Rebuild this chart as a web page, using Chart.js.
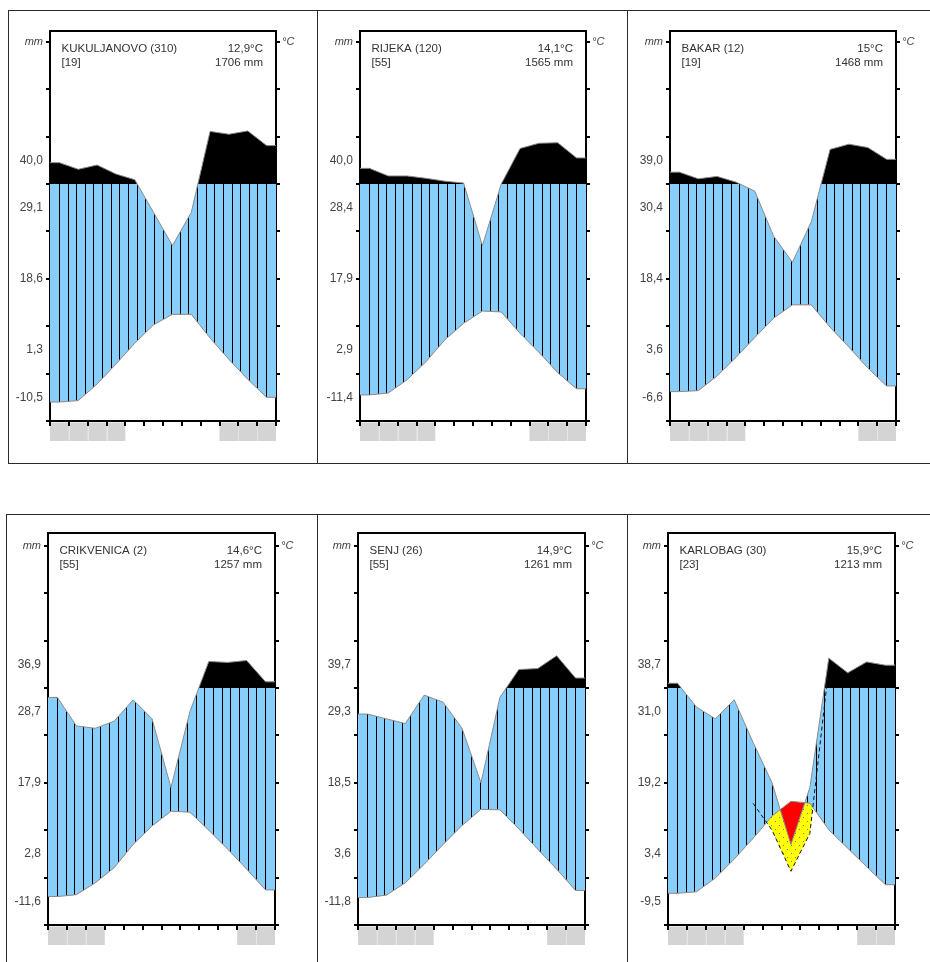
<!DOCTYPE html>
<html><head><meta charset="utf-8">
<script src="https://cdn.jsdelivr.net/npm/chart.js@4.4.1/dist/chart.umd.min.js"></script>
<style>
html,body{margin:0;padding:0;background:#fff;overflow:hidden;width:930px;height:962px;position:relative;}
.ln{position:absolute;background:#2b2b2b;}
canvas{position:absolute;}
</style></head><body>
<div class="ln" style="left:8px;top:10px;width:922px;height:1px"></div>
<div class="ln" style="left:8px;top:463px;width:922px;height:1px"></div>
<div class="ln" style="left:8px;top:10px;width:1px;height:454px"></div>
<div class="ln" style="left:317px;top:10px;width:1px;height:454px"></div>
<div class="ln" style="left:627px;top:10px;width:1px;height:454px"></div>
<div class="ln" style="left:6px;top:514px;width:924px;height:1px"></div>
<div class="ln" style="left:6px;top:514px;width:1px;height:448px"></div>
<div class="ln" style="left:317px;top:514px;width:1px;height:448px"></div>
<div class="ln" style="left:627px;top:514px;width:1px;height:448px"></div>
<script>
// ---------------- DATA ----------------
const months = ['Jan','Feb','Mar','Apr','May','Jun','Jul','Aug','Sep','Oct','Nov','Dec'];
const stationNames = ['KUKULJANOVO (310)','RIJEKA (120)','BAKAR (12)','CRIKVENICA (2)','SENJ (26)','KARLOBAG (30)'];
const recordYears = ['[19]','[55]','[19]','[55]','[55]','[23]'];
const meanTemps = ['12,9°C','14,1°C','15°C','14,6°C','14,9°C','15,9°C'];
const annualPrecip = ['1706 mm','1565 mm','1468 mm','1257 mm','1261 mm','1213 mm'];
const leftLabels = [
  ['40,0','29,1','18,6','1,3','-10,5'],
  ['40,0','28,4','17,9','2,9','-11,4'],
  ['39,0','30,4','18,4','3,6','-6,6'],
  ['36,9','28,7','17,9','2,8','-11,6'],
  ['39,7','29,3','18,5','3,6','-11,8'],
  ['38,7','31,0','19,2','3,4','-9,5']
];
// monthly mean temperature (°C)
const tempKukuljanovo = [4.0, 4.3, 7.8, 12.0, 16.4, 20.3, 22.5, 22.5, 17.5, 13.0, 8.8, 5.0];
const tempRijeka      = [5.5, 5.9, 8.7, 12.5, 17.1, 20.6, 23.2, 23.0, 18.5, 14.5, 10.2, 6.8];
const tempBakar       = [6.2, 6.4, 9.5, 13.4, 17.6, 21.7, 24.5, 24.5, 19.8, 15.6, 11.2, 7.4];
const tempCrikvenica  = [6.0, 6.4, 8.9, 12.1, 17.0, 20.9, 24.0, 23.8, 20.0, 16.0, 11.8, 7.4];
const tempSenj        = [5.8, 6.3, 8.9, 12.8, 17.0, 21.0, 24.4, 24.3, 20.3, 16.0, 11.8, 7.3];
const tempKarlobag    = [6.7, 7.0, 9.9, 13.9, 18.3, 23.0, 26.1, 25.7, 20.1, 16.2, 12.3, 8.5];
// monthly precipitation (mm)
const precKukuljanovo = [145, 131, 140, 121, 109, 88, 74, 88, 211, 205, 212, 181];
const precRijeka      = [133, 117, 117, 112, 106, 102, 74, 100, 175, 186, 187, 155];
const precBakar       = [125, 111, 116, 104, 97, 78, 67, 84, 173, 184, 177, 152];
const precCrikvenica  = [96, 84, 83, 86, 95, 87, 58, 90, 156, 154, 158, 113];
const precSenj        = [89, 87, 85, 97, 94, 83, 60, 96, 139, 141, 168, 121];
const precKarlobag    = [110, 92, 87, 95, 77, 60, 34, 58, 163, 132, 155, 148];
// months (0-based) with frost
const frostKukuljanovo = [0,1,2,3,9,10,11];
const frostRijeka      = [0,1,2,3,9,10,11];
const frostBakar       = [0,1,2,3,10,11];
const frostCrikvenica  = [0,1,2,10,11];
const frostSenj        = [0,1,2,3,10,11];
const frostKarlobag    = [0,1,2,3,10,11];

const temps = [tempKukuljanovo,tempRijeka,tempBakar,tempCrikvenica,tempSenj,tempKarlobag];
const precs = [precKukuljanovo,precRijeka,precBakar,precCrikvenica,precSenj,precKarlobag];
const frosts = [frostKukuljanovo,frostRijeka,frostBakar,frostCrikvenica,frostSenj,frostKarlobag];

// ---------------- LAYOUT / STYLE ----------------
const boxes = [
  {L:50,T:31,W:226,H:390},{L:360,T:31,W:226,H:390},{L:670,T:31,W:226,H:390},
  {L:48,T:533,W:227,H:392},{L:358,T:533,W:227,H:392},{L:668,T:533,W:227,H:392}
];
const AX_L=50, AX_R=34, AX_T=30, AX_B=30;
const LABEL_POS = [55,45,30,15,5];
const GRID_TICKS = [0,10,20,30,40,50,60,70,80];
const FONT = '"Liberation Sans", Arial, Helvetica, sans-serif';
const BLUE = '#87cefa';

// Walter-Lieth scale: 10°C = 20 mm; above 100 mm compressed
function scaleP(p){ return p <= 100 ? p/2 : 50 + (p-100)/10; }
function withEdges(vals){
  const pts = vals.map((v,i)=>({x:i+0.5,y:v}));
  return [{x:0,y:vals[0]}, ...pts, {x:12,y:vals[vals.length-1]}];
}
function dryThird(T,P){
  const arid = P.some((p,i)=>p/2 < T[i]);
  if(!arid) return [];
  const rel = [];
  P.forEach((p,i)=>{ if(p/3 < T[i]) rel.push(i); });
  const a = Math.max(0, rel[0]-1), b = Math.min(11, rel[rel.length-1]+1);
  const pts = [];
  for(let i=a;i<=b;i++) pts.push({x:i+0.5, y:P[i]/3});
  return pts;
}

function makeChart(i){
  const b = boxes[i];
  const cv = document.createElement('canvas');
  const w = AX_L + b.W + AX_R, h = AX_T + b.H + AX_B;
  cv.width = w; cv.height = h;
  cv.style.left = (b.L - AX_L) + 'px';
  cv.style.top = (b.T - AX_T) + 'px';
  cv.style.width = w + 'px'; cv.style.height = h + 'px';
  document.body.appendChild(cv);
  const yMax = b.H / 4.74;
  const T = temps[i], P = precs[i];
  const pScaled = P.map(scaleP);

  const decor = {
    id: 'decor'+i,
    beforeDraw(chart){
      const ctx = chart.ctx, xs = chart.scales.x, ca = chart.chartArea;
      ctx.save();
      frosts[i].forEach(m=>{
        const x0 = xs.getPixelForValue(m), x1 = xs.getPixelForValue(m+1);
        ctx.fillStyle = '#d4d4d4';
        ctx.fillRect(x0, ca.bottom+1.5, x1-x0, 18.5);
        ctx.fillStyle = '#e6e6e6';
        if (m>0 && frosts[i].includes(m-1)) ctx.fillRect(Math.round(x0), ca.bottom+1.5, 1, 18.5);
      });
      ctx.restore();
    },
    afterDraw(chart){
      const ctx = chart.ctx, ca = chart.chartArea;
      ctx.save();
      ctx.font = '11.5px ' + FONT;
      ctx.fillStyle = '#333';
      ctx.textBaseline = 'middle';
      ctx.textAlign = 'left';
      ctx.fillText(stationNames[i], ca.left+11.5, ca.top+18);
      ctx.fillText(recordYears[i], ca.left+11.5, ca.top+31.5);
      ctx.textAlign = 'right';
      ctx.fillText(meanTemps[i], ca.right-13, ca.top+18);
      ctx.fillText(annualPrecip[i], ca.right-13, ca.top+31.5);
      ctx.restore();
    }
  };

  const chart = new Chart(cv, {
    type: 'line',
    data: {
      datasets: [
        { label:'excess', data: withEdges(pScaled), borderWidth:0, borderColor:'rgba(0,0,0,0)', pointRadius:0,
          fill:{target:{value:50}, above:'#000', below:'rgba(0,0,0,0)'} },
        { label:'precip', data: withEdges(pScaled), borderWidth:1, borderColor:'#8c8c8c', pointRadius:0,
          fill:{target:3, above:BLUE, below:'#ff0000'} },
        { label:'precip13', data: dryThird(T,P), borderWidth:1, borderColor:'#111', borderDash:[4,3], pointRadius:0,
          fill:{target:3, above:'rgba(0,0,0,0)', below:'#ffff00'} },
        { label:'temp', data: withEdges(T), borderWidth:1, borderColor:'#8c8c8c', pointRadius:0, fill:false }
      ]
    },
    options: {
      responsive:false, maintainAspectRatio:false, animation:false,
      devicePixelRatio:1,
      layout:{padding:0},
      elements:{line:{tension:0}},
      plugins:{ legend:{display:false}, tooltip:{enabled:false}, filler:{drawTime:'beforeDatasetsDraw'} },
      scales:{
        x:{ type:'linear', axis:'x', position:'bottom', min:0, max:12,
            afterBuildTicks: s=>{ s.ticks = months.map((m,k)=>({value:k})).concat([{value:12}]); },
            afterFit: s=>{ s.height = AX_B; },
            ticks:{display:false},
            grid:{drawOnChartArea:false, drawTicks:true, tickLength:5, color:'#000', lineWidth:2},
            border:{display:true, color:'#000', width:2} },
        xTop:{ type:'linear', axis:'x', position:'top', min:0, max:12,
            afterFit: s=>{ s.height = AX_T; },
            ticks:{display:false}, grid:{display:false},
            border:{display:true, color:'#000', width:2} },
        y:{ type:'linear', axis:'y', position:'left', min:0, max:yMax,
            afterBuildTicks: s=>{ s.ticks = [0,5,10,15,20,30,40,45,50,55,60,70,80].map(v=>({value:v})); },
            afterFit: s=>{ s.width = AX_L; },
            ticks:{ autoSkip:false, padding:3, color:'#444',
              font: ctx => (ctx.tick && ctx.tick.value===80) ? {family:FONT, size:11, style:'italic'} : {family:FONT, size:12},
              callback: v => { const k = LABEL_POS.indexOf(v); if(k>=0) return leftLabels[i][k]; if(v===80) return 'mm'; return ''; } },
            grid:{ drawOnChartArea:false, drawTicks:true, tickLength:4, lineWidth:2,
              color: ctx => (ctx.tick && GRID_TICKS.includes(ctx.tick.value)) ? '#000' : 'rgba(0,0,0,0)' },
            border:{display:true, color:'#000', width:2} },
        yR:{ type:'linear', axis:'y', position:'right', min:0, max:yMax,
            afterBuildTicks: s=>{ s.ticks = GRID_TICKS.map(v=>({value:v})); },
            afterFit: s=>{ s.width = AX_R; },
            ticks:{ autoSkip:false, padding:2, color:'#444', font:{family:FONT, size:11, style:'italic'},
              callback: v => v===80 ? '°C' : '' },
            grid:{ drawOnChartArea:false, drawTicks:true, tickLength:4, lineWidth:2, color:'#000' },
            border:{display:true, color:'#000', width:2} }
      }
    },
    plugins:[decor]
  });

  // hatch pattern (blue with vertical lines) placed through the x scale
  const xs = chart.scales.x;
  const hc = document.createElement('canvas');
  hc.width = chart.width; hc.height = 8;
  const hg = hc.getContext('2d');
  hg.fillStyle = BLUE; hg.fillRect(0,0,hc.width,hc.height);
  hg.fillStyle = '#000';
  for(let k=0;k<=24;k++){
    const px = xs.getPixelForValue(0.5 + k*11/24);
    hg.fillRect(Math.floor(px), 0, 1, hc.height);
  }
  // yellow dotted pattern
  const yc = document.createElement('canvas');
  yc.width = 8; yc.height = 8;
  const yg = yc.getContext('2d');
  yg.fillStyle = '#ffff00'; yg.fillRect(0,0,8,8);
  yg.fillStyle = '#777';
  yg.fillRect(1,2,1,1); yg.fillRect(5,6,1,1);

  chart.data.datasets[1].fill.above = chart.ctx.createPattern(hc,'repeat');
  chart.data.datasets[2].fill.below = chart.ctx.createPattern(yc,'repeat');
  chart.update('none');
  return chart;
}

for(let i=0;i<6;i++) makeChart(i);
</script>
</body></html>
